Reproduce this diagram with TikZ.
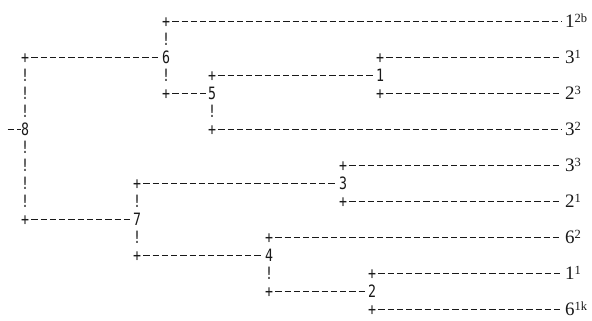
\documentclass[tikz,border=0pt]{standalone}
\usepackage{fontspec}
\setmainfont{Liberation Serif}
\newfontfamily\asciifont[FakeStretch=0.78]{DejaVu Sans Mono}
\newcommand{\sups}[1]{\raisebox{5.5pt}{\fontsize{12.5}{12.5}\selectfont #1}}
\tikzset{
  asc/.style={inner sep=0pt, minimum width=12.25pt, text height=12.5pt, text depth=0pt,
    font=\asciifont\fontsize{17}{17}\selectfont, text=black!90},
  leaf/.style={anchor=west, inner xsep=3pt, inner ysep=0pt, text height=12.5pt, text depth=0pt,
    font=\fontsize{19}{19}\selectfont, text=black!90},
  link/.style={draw=black!90, line width=1pt, dash pattern=on 6.25pt off 3pt},
}
\begin{document}
\begin{tikzpicture}[x=1pt, y=-18pt]
    \useasboundingbox (0,-1.206) rectangle (592,16.572);
    \node[asc] (n8) at (25,6)  {8};
    \node[asc] (n6) at (166,2) {6};
    \node[asc] (n5) at (212,4) {5};
    \node[asc] (n1) at (380,3) {1};
    \node[asc] (n7) at (137,11) {7};
    \node[asc] (n3) at (343,9) {3};
    \node[asc] (n4) at (269,13) {4};
    \node[asc] (n2) at (372,15) {2};
    \node[leaf] (la) at (562,0)  {1\sups{2b}};
    \node[leaf] (lb) at (562,2)  {3\sups{1}};
    \node[leaf] (ld) at (562,4)  {2\sups{3}};
    \node[leaf] (lc) at (562,6)  {3\sups{2}};
    \node[leaf] (le) at (562,8)  {3\sups{3}};
    \node[leaf] (lf) at (562,10) {2\sups{1}};
    \node[leaf] (lg) at (562,12) {6\sups{2}};
    \node[leaf] (lh) at (562,14) {1\sups{1}};
    \node[leaf] (li) at (562,16) {6\sups{1k}};
    \foreach \nm/\x/\y in {p6/25/2, p7/25/11, pa/166/0, p5/166/4, p1/212/3, pc/212/6,
        pb/380/2, pd/380/4, p3/137/9, p4/137/13, pe/343/8, pf/343/10,
        pg/269/12, p2/269/15, ph/372/14, pi/372/16}
        \node[asc] (\nm) at (\x,\y) {+};
    \foreach \s/\t in {p6/n6, p7/n7, pa/la, p5/n5, p1/n1, pc/lc, pb/lb, pd/ld,
        p3/n3, p4/n4, pe/le, pf/lf, pg/lg, p2/n2, ph/lh, pi/li}
        \draw[link] (\s.east) -- (\t.west);
    \foreach \x/\y in {25/3, 25/4, 25/5, 25/7, 25/8, 25/9, 25/10, 166/1, 166/3,
        212/5, 137/10, 137/12, 269/14}
        \node[asc] at (\x,\y) {!};
    \coordinate (root) at (7.5,6);
    \draw[link] (root) -- ([xshift=2.5pt]n8.west);
\end{tikzpicture}
\end{document}
